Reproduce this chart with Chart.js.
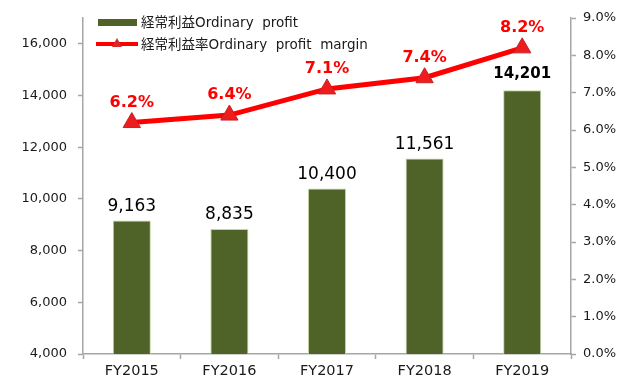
<!DOCTYPE html>
<html>
<head>
<meta charset="utf-8">
<script src="https://cdn.jsdelivr.net/npm/chart.js@4"></script>
<style>
  html, body { margin: 0; padding: 0; background: #fff; }
  #wrap { width: 624px; height: 381px; }
</style>
</head>
<body>
<div id="wrap"><canvas id="chart" width="624" height="381"></canvas></div>
<script>
const categories = ['FY2015', 'FY2016', 'FY2017', 'FY2018', 'FY2019'];
const ordinaryProfit = [9163, 8835, 10400, 11561, 14201];
const profitMargin = [6.2, 6.4, 7.1, 7.4, 8.2];
const profitTicks = [4000, 6000, 8000, 10000, 12000, 14000, 16000];
const marginTicks = [0, 1, 2, 3, 4, 5, 6, 7, 8, 9];
const profitLabel = '経常利益Ordinary  profit';
const marginLabel = '経常利益率Ordinary  profit  margin';

const FONT = '"DejaVu Sans", Verdana, "Noto Sans CJK JP", sans-serif';
const AXIS_GREY = '#a6a6a6';
const BAR_GREEN = '#4f6228';
const LINE_RED = '#ff0000';

// value labels above bars and markers
const valueLabels = {
  id: 'valueLabels',
  afterDatasetsDraw(chart) {
    const ctx = chart.ctx;
    ctx.save();
    ctx.textAlign = 'center';
    ctx.textBaseline = 'alphabetic';

    const bars = chart.getDatasetMeta(0).data;
    bars.forEach((bar, i) => {
      const last = i === bars.length - 1;
      ctx.font = (last ? 'bold 15px ' : '17px ') + FONT;
      ctx.fillStyle = '#000';
      ctx.fillText(ordinaryProfit[i].toLocaleString('en-US'), bar.x, bar.y - (last ? 12 : 10));
    });

    const pts = chart.getDatasetMeta(1).data;
    ctx.font = 'bold 16px ' + FONT;
    ctx.fillStyle = LINE_RED;
    pts.forEach((pt, i) => {
      ctx.fillText(profitMargin[i].toFixed(1) + '%', pt.x, pt.y - 16);
    });
    ctx.restore();
  }
};

// legend drawn inside the plot, top-left
const insetLegend = {
  id: 'insetLegend',
  afterDraw(chart) {
    const ctx = chart.ctx;
    ctx.save();
    ctx.font = '13.5px ' + FONT;
    ctx.textBaseline = 'middle';
    ctx.textAlign = 'left';

    ctx.fillStyle = BAR_GREEN;
    ctx.fillRect(98, 19, 39, 7);
    ctx.fillStyle = '#1a1a1a';
    ctx.fillText(profitLabel, 141, 23);

    ctx.strokeStyle = LINE_RED;
    ctx.lineWidth = 4;
    ctx.beginPath();
    ctx.moveTo(96, 44);
    ctx.lineTo(138, 44);
    ctx.stroke();
    ctx.fillStyle = '#d42a2a';
    ctx.beginPath();
    ctx.moveTo(117, 38);
    ctx.lineTo(122, 47);
    ctx.lineTo(112, 47);
    ctx.closePath();
    ctx.fill();
    ctx.fillStyle = '#1a1a1a';
    ctx.fillText(marginLabel, 141, 45);
    ctx.restore();
  }
};

const tickGrid = {
  drawOnChartArea: false,
  tickLength: 5,
  tickColor: AXIS_GREY,
  tickWidth: 1.5
};

// fixed axis width, and no extra label padding pushing the plot inward
const fixWidth = w => scale => {
  scale.width = w;
  scale.paddingTop = 0;
  scale.paddingBottom = 0;
};

const ctx = document.getElementById('chart').getContext('2d');
new Chart(ctx, {
  data: {
    labels: categories,
    datasets: [
      {
        type: 'bar',
        label: profitLabel,
        data: ordinaryProfit,
        yAxisID: 'y',
        backgroundColor: BAR_GREEN,
        borderColor: '#c4d4a4',
        borderWidth: 1,
        barPercentage: 0.39,
        categoryPercentage: 1,
        order: 1
      },
      {
        type: 'line',
        label: marginLabel,
        data: profitMargin,
        yAxisID: 'y1',
        borderColor: LINE_RED,
        borderWidth: 5,
        tension: 0,
        pointStyle: 'triangle',
        pointRadius: 10,
        pointBackgroundColor: '#ee1c1c',
        pointBorderColor: '#c0262b',
        pointBorderWidth: 1,
        clip: false,
        order: 0
      }
    ]
  },
  options: {
    responsive: false,
    animation: false,
    layout: { padding: { top: 18, left: 0, right: 0, bottom: 0 } },
    plugins: {
      legend: { display: false },
      tooltip: { enabled: false }
    },
    scales: {
      x: {
        offset: true,
        grid: { ...tickGrid, offset: true },
        border: { display: true, color: AXIS_GREY, width: 1.5 },
        ticks: { color: '#1a1a1a', font: { family: FONT, size: 14.5 }, padding: 4, maxRotation: 0 },
        afterFit(scale) { scale.height = 27; }
      },
      y: {
        position: 'left',
        min: 4000,
        max: 17000,
        ticks: {
          color: '#1a1a1a',
          padding: 11,
          font: { family: FONT, size: 13 },
          callback: v => v.toLocaleString('en-US')
        },
        afterBuildTicks(scale) {
          scale.ticks = profitTicks.map(v => ({ value: v }));
        },
        grid: tickGrid,
        border: { display: true, color: AXIS_GREY, width: 1.5 },
        afterFit: fixWidth(83)
      },
      y1: {
        position: 'right',
        min: 0,
        max: 9,
        ticks: {
          color: '#1a1a1a',
          padding: 7,
          font: { family: FONT, size: 13 },
          callback: v => v.toFixed(1) + '%'
        },
        afterBuildTicks(scale) {
          scale.ticks = marginTicks.map(v => ({ value: v }));
        },
        grid: tickGrid,
        border: { display: true, color: AXIS_GREY, width: 1.5 },
        afterFit: fixWidth(53)
      }
    }
  },
  plugins: [valueLabels, insetLegend]
});
</script>
</body>
</html>
